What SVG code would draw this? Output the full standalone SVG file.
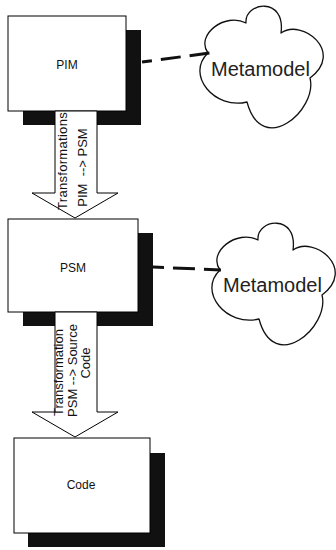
<svg xmlns="http://www.w3.org/2000/svg" width="336" height="550" viewBox="0 0 336 550">
<defs>
<style>
.box{fill:#fff;stroke:#000;stroke-width:1}
.shadow{fill:#111;stroke:none}
.lbl{font-family:"Liberation Sans",Arial,sans-serif;font-size:12px;fill:#111;text-anchor:middle}
.cloud{fill:#fff;stroke:#111;stroke-width:1.3;stroke-linejoin:round}
.meta{font-family:"Liberation Sans",Arial,sans-serif;font-size:20px;fill:#222}
.barrow{fill:#fff;stroke:#000;stroke-width:1}
.atext{font-family:"Liberation Sans",Arial,sans-serif;font-size:13px;fill:#111;text-anchor:middle}
.dash{fill:none;stroke:#111;stroke-width:3}
</style>
<path id="cloudShape" d="M208,53 C195,35 225,12 246,23 C244,2 286,-4 281,33 C302,18 345,52 310,78 C318,110 262,158 247,102 C215,110 185,75 208,53 Z"/>
</defs>
<g id="pim">
<rect class="shadow" x="23" y="30" width="118" height="95"/>
<rect class="box" x="8" y="16" width="118" height="95"/>
<text class="lbl" x="67" y="69">PIM</text>
</g>
<g id="psm">
<rect class="shadow" x="23" y="233" width="130" height="93"/>
<rect class="box" x="8" y="219" width="130" height="93"/>
<text class="lbl" x="73" y="272">PSM</text>
</g>
<g id="code">
<rect class="shadow" x="28" y="453" width="137" height="94"/>
<rect class="box" x="14" y="438" width="136" height="95"/>
<text class="lbl" x="81" y="489">Code</text>
</g>
<g id="metamodel1">
<use href="#cloudShape" class="cloud"/>
<text class="meta" x="211" y="76">Metamodel</text>
</g>
<g id="metamodel2">
<use href="#cloudShape" class="cloud" transform="translate(12,217)"/>
<text class="meta" x="223" y="292">Metamodel</text>
</g>
<g id="connectors">
<line class="dash" x1="142" y1="62" x2="210" y2="53" stroke-dasharray="20 9" stroke-dashoffset="10"/>
<line class="dash" x1="153" y1="267" x2="221" y2="270" stroke-dasharray="22 9" stroke-dashoffset="11"/>
<polygon class="barrow" points="55,111 97,111 97,193 118,193 75,218 32,193 55,193"/>
<text class="atext" transform="translate(67,161) rotate(-90)" letter-spacing="0.3">Transformations</text>
<text class="atext" transform="translate(87,167.5) rotate(-90)" xml:space="preserve">PIM  --&gt; PSM</text>
<polygon class="barrow" points="55,312 97,312 97,412 118,412 75,437 32,412 55,412"/>
<text class="atext" transform="translate(63,372.5) rotate(-90)">Transformation</text>
<text class="atext" transform="translate(77,370.5) rotate(-90)">PSM --&gt; Source</text>
<text class="atext" transform="translate(90,363) rotate(-90)">Code</text>
</g>
</svg>
